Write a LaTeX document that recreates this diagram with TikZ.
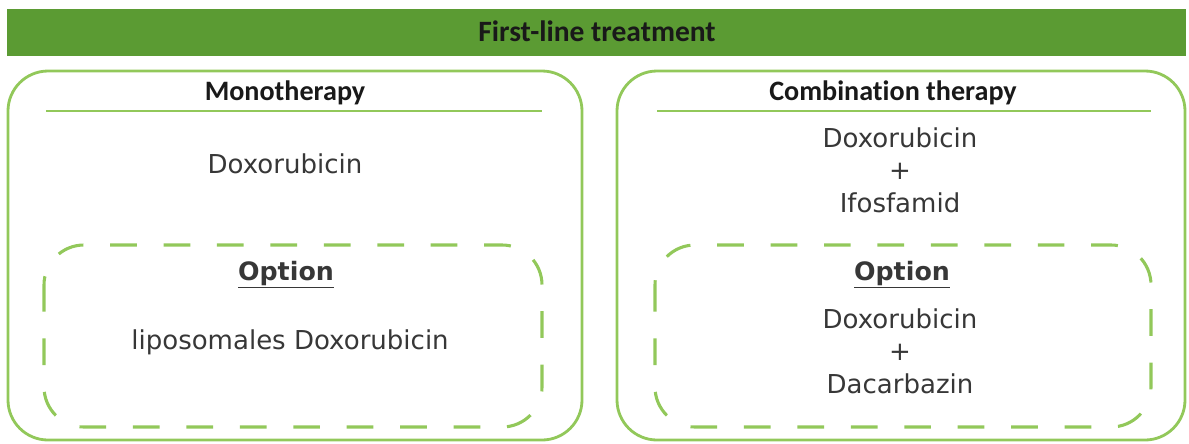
\documentclass[tikz,border=0pt]{standalone}
\usepackage{fontspec}
\setmainfont{Carlito}[Ligatures=NoCommon]
\newfontfamily\drugfont{DejaVu Sans}
\usetikzlibrary{positioning}
\definecolor{bargreen}{RGB}{91,155,51}
\definecolor{linegreen}{RGB}{146,200,90}
\definecolor{druggray}{RGB}{55,55,55}

\begin{document}
\begin{tikzpicture}[
    x=0.025cm, y=-0.025cm,
    frame/.style={draw=linegreen, line width=2pt, rounded corners=1cm},
    optbox/.style={frame, line width=2.2pt, dash pattern=on 19pt off 19pt},
    rule/.style={draw=linegreen, line width=2pt},
    head/.style={font=\fontsize{20}{24}\selectfont\bfseries, text=black!90, anchor=base},
    drug/.style={font=\drugfont\fontsize{18.5}{23}\selectfont, text=druggray, align=center},
    opt/.style={font=\drugfont\bfseries\fontsize{18}{22}\selectfont, text=druggray, anchor=base}
]
\useasboundingbox (0,0) rectangle (1189,443);

% Header bar
\fill[bargreen] (7,9) rectangle (1186,56);
\node[head, font=\fontsize{21}{25}\selectfont\bfseries] (title) at (597,41) {First-line treatment};

% Monotherapy
\draw[frame] (8,71) rectangle (582,440);
\node[head] (mono) at (285,100) {Monotherapy};
\draw[rule] (46,111) -- (542,111);
\node[drug, anchor=base] (monodrug) at (285,173) {Doxorubicin};
\draw[optbox] (44,245) rectangle (542,427);
\node[opt] (monoopt) at (286,280) {\underline{Option}};
\node[drug, anchor=base] (monoalt) at (290,349) {liposomales Doxorubicin};

% Combination therapy
\draw[frame] (617,71) rectangle (1185,440);
\node[head] (combi) at (893,100) {Combination therapy};
\draw[rule] (657,111) -- (1151,111);
\node[drug] (combidrug) at (900,170) {Doxorubicin\\+\\Ifosfamid};
\draw[optbox] (655,245) rectangle (1151,427);
\node[opt] (combiopt) at (902,280) {\underline{Option}};
\node[drug] (combialt) at (900,351) {Doxorubicin\\+\\Dacarbazin};
\end{tikzpicture}
\end{document}
